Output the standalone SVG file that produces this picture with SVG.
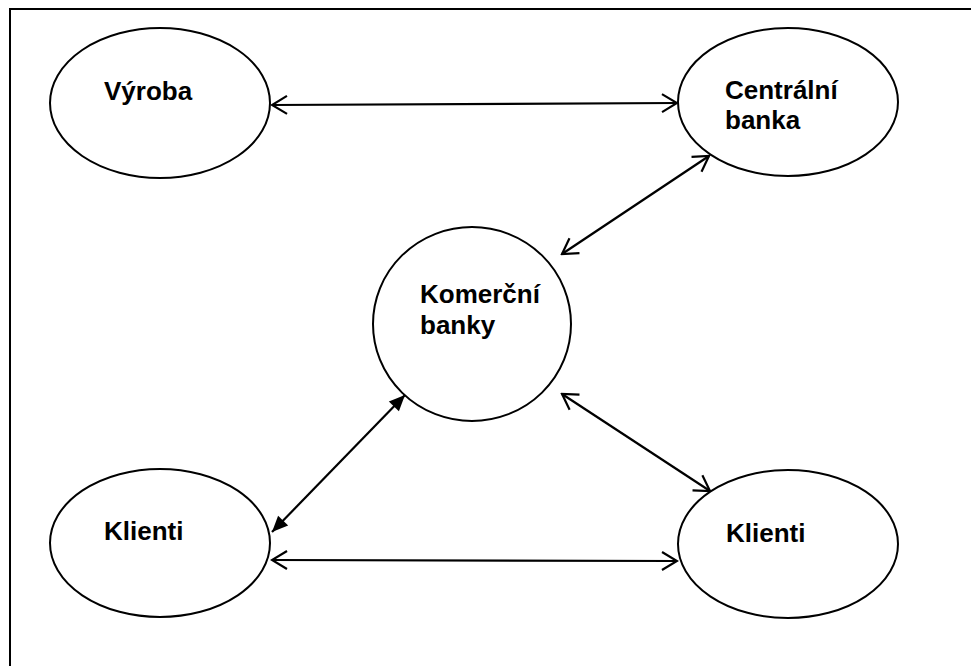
<svg xmlns="http://www.w3.org/2000/svg" width="971" height="666" viewBox="0 0 971 666">
<style>
.node{fill:#fff;stroke:#000;stroke-width:2}
.lbl{font-family:"Liberation Sans",Arial,sans-serif;font-weight:bold;font-size:26px;fill:#000}
.con{stroke:#000;stroke-width:2.2;fill:none}
.open{marker-start:url(#openArrow);marker-end:url(#openArrow)}
.solid{marker-start:url(#solidArrow);marker-end:url(#solidArrow)}
</style>
<defs>
<marker id="openArrow" viewBox="-18 -11 20 22" markerWidth="20" markerHeight="22" refX="0" refY="0" markerUnits="userSpaceOnUse" orient="auto-start-reverse">
<path d="M-15,-9 L0,0 L-15,9" fill="none" stroke="#000" stroke-width="2.2"/>
</marker>
<marker id="solidArrow" viewBox="-18 -9 20 18" markerWidth="20" markerHeight="18" refX="0" refY="0" markerUnits="userSpaceOnUse" orient="auto-start-reverse">
<path d="M-16,-7 L0,0 L-16,7 Z" fill="#000"/>
</marker>
</defs>
<rect x="10" y="9" width="1000" height="700" fill="none" stroke="#000" stroke-width="2"/>
<g id="connectors">
<line class="con open" x1="272" y1="105" x2="677" y2="103"/>
<line class="con open" x1="709" y1="156" x2="562" y2="254"/>
<line class="con open" x1="562" y1="394" x2="710" y2="491"/>
<line class="con solid" x1="405" y1="395" x2="272" y2="532"/>
<line class="con open" x1="272" y1="560" x2="677" y2="561"/>
</g>
<g id="vyroba">
<ellipse class="node" cx="160" cy="103" rx="110" ry="75"/>
<text class="lbl" x="104" y="100">Výroba</text>
</g>
<g id="centralni-banka">
<ellipse class="node" cx="788" cy="102" rx="110" ry="74"/>
<text class="lbl" x="725" y="99">Centrální</text>
<text class="lbl" x="725" y="129">banka</text>
</g>
<g id="komercni-banky">
<ellipse class="node" cx="472" cy="324" rx="99" ry="97"/>
<text class="lbl" x="420" y="303">Komerční</text>
<text class="lbl" x="420" y="334">banky</text>
</g>
<g id="klienti-left">
<ellipse class="node" cx="160" cy="543" rx="110" ry="74"/>
<text class="lbl" x="104" y="540">Klienti</text>
</g>
<g id="klienti-right">
<ellipse class="node" cx="788" cy="544" rx="110" ry="74"/>
<text class="lbl" x="726" y="542">Klienti</text>
</g>
</svg>
